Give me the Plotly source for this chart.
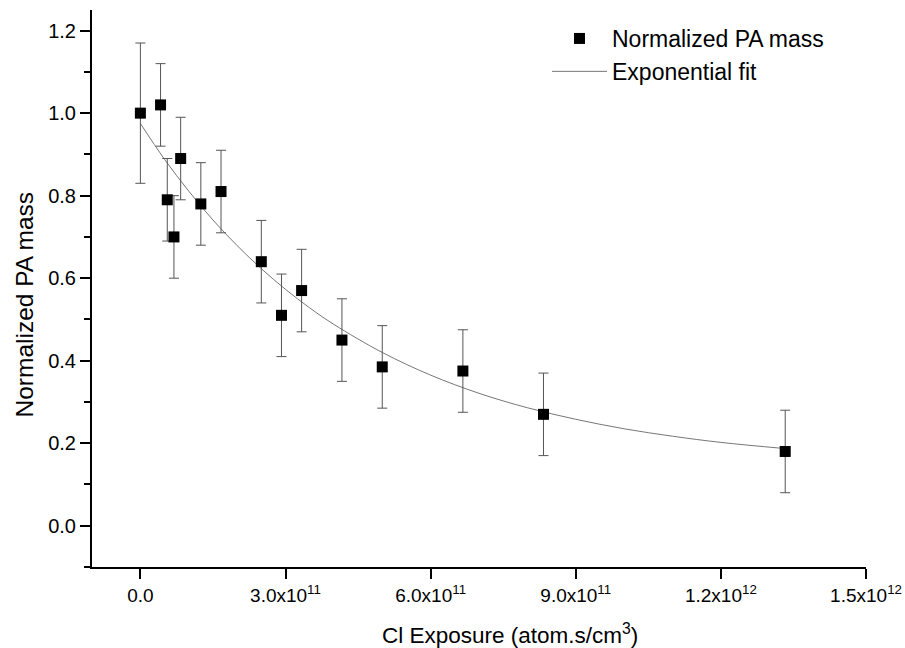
import plotly.graph_objects as go

# Data (x in atom.s/cm^3)
exposure = [0.0, 0.417e11, 0.556e11, 0.694e11, 0.833e11, 1.25e11, 1.667e11, 2.5e11,
            2.917e11, 3.333e11, 4.167e11, 5.0e11, 6.667e11, 8.333e11, 13.33e11]
pa_mass = [1.00, 1.02, 0.79, 0.70, 0.89, 0.78, 0.81, 0.64,
           0.51, 0.57, 0.45, 0.385, 0.375, 0.27, 0.18]
pa_err = [0.17, 0.10, 0.10, 0.10, 0.10, 0.10, 0.10, 0.10,
          0.10, 0.10, 0.10, 0.10, 0.10, 0.10, 0.10]

# Exponential fit curve
fit_x = [0.0, 0.5e11, 1.0e11, 1.5e11, 2.0e11, 2.5e11, 3.0e11, 3.5e11, 4.0e11, 5.0e11,
         6.0e11, 7.0e11, 8.0e11, 9.0e11, 10.0e11, 11.0e11, 12.0e11, 13.33e11]
fit_y = [0.975, 0.888, 0.811, 0.741, 0.679, 0.623, 0.573, 0.528, 0.488, 0.420,
         0.365, 0.321, 0.286, 0.258, 0.235, 0.217, 0.202, 0.187]

x_tickvals = [0, 3e11, 6e11, 9e11, 1.2e12, 1.5e12]
x_ticktext = ["0.0", "3.0x10<sup>11</sup>", "6.0x10<sup>11</sup>", "9.0x10<sup>11</sup>",
              "1.2x10<sup>12</sup>", "1.5x10<sup>12</sup>"]

FONT = "Liberation Sans, Arial, sans-serif"

W, H = 905, 648
PL, PR, PT, PB = 92, 866, 10, 567
PW, PH = PR - PL, PB - PT

fig = go.Figure()
fig.add_trace(go.Scatter(
    x=fit_x, y=fit_y, mode="lines", name="Exponential fit",
    line=dict(color="#777777", width=1, shape="spline"), legendrank=2,
))
fig.add_trace(go.Scatter(
    x=exposure, y=pa_mass, mode="markers", name="Normalized PA mass",
    marker=dict(symbol="square", size=11, color="black"),
    error_y=dict(type="data", array=pa_err, visible=True, color="#555555", thickness=1, width=5),
    legendrank=1,
))

fig.update_layout(
    width=W, height=H,
    margin=dict(l=PL, r=W - PR, t=PT, b=H - PB, autoexpand=False),
    paper_bgcolor="white", plot_bgcolor="white",
    font=dict(family=FONT, color="black", size=19),
    showlegend=True,
    legend=dict(x=(547 - PL) / PW, y=1.0 - (17 - PT) / PH, xanchor="left", yanchor="top",
                font=dict(size=23, family=FONT), bgcolor="rgba(0,0,0,0)",
                itemwidth=55, tracegroupgap=0),
    xaxis=dict(range=[-1.0e11, 1.5e12], tickvals=x_tickvals, ticktext=x_ticktext,
               automargin=False,
               showgrid=False, zeroline=False, showline=True, linecolor="black", linewidth=2,
               ticks="outside", ticklen=10, tickwidth=2, tickcolor="black",
               tickfont=dict(size=19)),
    yaxis=dict(range=[-0.1, 1.25], tick0=0, dtick=0.2, tickformat=".1f",
               automargin=False,
               showgrid=False, zeroline=False, showline=True, linecolor="black", linewidth=2,
               ticks="outside", ticklen=10, tickwidth=2, tickcolor="black",
               tickfont=dict(size=20)),
    annotations=[
        dict(text="Cl Exposure (atom.s/cm<sup>3</sup>)", xref="paper", yref="paper",
             x=(510 - PL) / PW, y=-(634 - PB) / PH, xanchor="center", yanchor="middle",
             showarrow=False, font=dict(size=22.5, family=FONT)),
        dict(text="Normalized PA mass", xref="paper", yref="paper", textangle=-90,
             x=-(PL - 24) / PW, y=(PB - 304.5) / PH, xanchor="center", yanchor="middle",
             showarrow=False, font=dict(size=24.5, family=FONT)),
    ],
)
fig.update_yaxes(minor=dict(dtick=0.1, tick0=0, ticks="outside", ticklen=6, tickwidth=2,
                            tickcolor="black", showgrid=False))

fig.write_html(
    "out.html",
    config={"displayModeBar": False},
    post_script="document.body.style.margin='0';document.body.style.overflow='hidden';",
)
